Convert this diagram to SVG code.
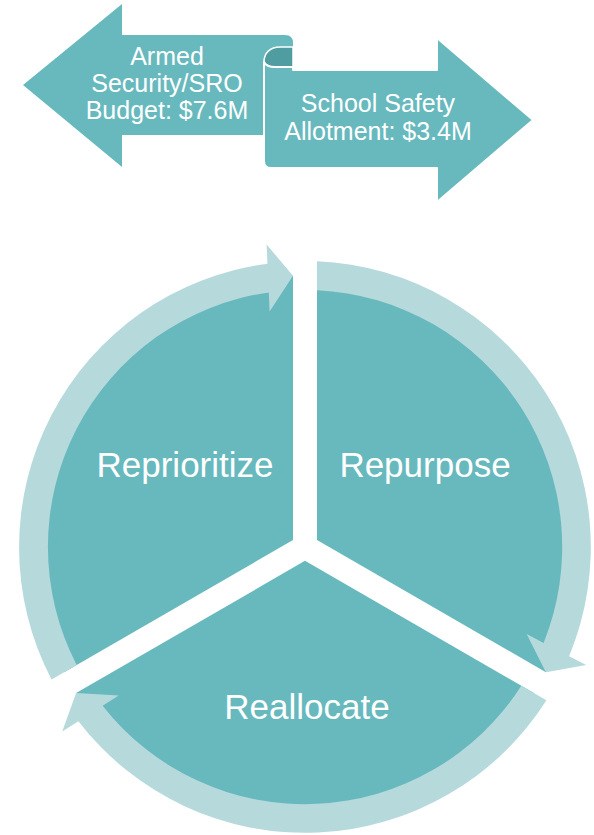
<svg xmlns="http://www.w3.org/2000/svg" width="594" height="835" viewBox="0 0 594 835">
<style>
.teal{fill:#67B9BE}
.light{fill:#B6D9DC}
.dark{fill:#4F9DA1}
.t{font-family:"Liberation Sans",Arial,sans-serif;fill:#ffffff;text-anchor:middle}
.top{font-size:25px}
.big{font-size:35px}
</style>
<rect width="594" height="835" fill="#ffffff"/>
<g id="armed-security">
<path class="teal" d="M23,85 L122,4 L122,35 L285,35 Q293,35 293,43 L293,60 L270,60 L270,135 L122,135 L122,167 Z"/>
<text class="t top" x="167" y="65">Armed</text>
<text class="t top" x="167" y="92">Security/SRO</text>
<text class="t top" x="167" y="119">Budget: $7.6M</text>
</g>
<g id="school-safety">
<path class="dark" d="M264,62 C264,53 270,47 280,47 L293,47 L293,67 L273,67 C268,67 264,65 264,62 Z" stroke="#ffffff" stroke-width="1.5"/>
<path class="teal" d="M264,62 C266,66 270,67 275,67 L293,67 L293,70 L437,70 L437,38 L533,120 L437,202 L437,168 L271,168 Q264,168 264,161 Z" stroke="#ffffff" stroke-width="2" stroke-linejoin="round"/>
<text class="t top" x="378" y="112">School Safety</text>
<text class="t top" x="378" y="140">Allotment: $3.4M</text>
</g>
<g id="reprioritize">
<path class="teal" d="M293,540.07 L293,275.77 A271.5,271.5 0 0 0 64.11,672.23 Z"/>
<text class="t big" x="185" y="477">Reprioritize</text>
</g>
<g id="repurpose">
<path class="teal" transform="rotate(120 305 547)" d="M293,540.07 L293,275.77 A271.5,271.5 0 0 0 64.11,672.23 Z"/>
<text class="t big" x="425" y="477">Repurpose</text>
</g>
<g id="reallocate">
<path class="teal" transform="rotate(240 305 547)" d="M293,540.07 L293,275.77 A271.5,271.5 0 0 0 64.11,672.23 Z"/>
<text class="t big" x="307" y="719">Reallocate</text>
</g>
<g id="connectors">
<defs>
<path id="arc-arrow" d="M76.68,664.97 L51.54,679.49 A286,286 0 0 1 267.46,263.66 L266.6,244.5 L293,275.77 L269.6,311.5 L268.74,292.39 A257,257 0 0 0 76.68,664.97 Z"/>
</defs>
<use href="#arc-arrow" class="light"/>
<use href="#arc-arrow" class="light" transform="rotate(120 305 547)"/>
<use href="#arc-arrow" class="light" transform="rotate(240 305 547)"/>
</g>
</svg>
